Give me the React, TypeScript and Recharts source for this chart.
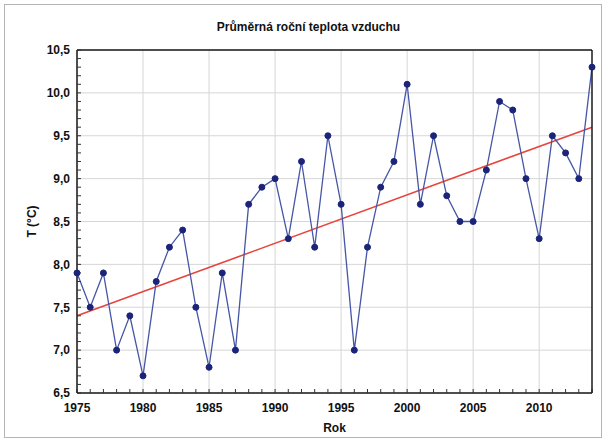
import {
  LineChart,
  Line,
  XAxis,
  YAxis,
  CartesianGrid,
  ReferenceLine,
} from 'recharts';

const FONT = "Arial, 'Liberation Sans', sans-serif";

// annual mean air temperature
const YEARS = [
  1975, 1976, 1977, 1978, 1979, 1980, 1981, 1982, 1983, 1984,
  1985, 1986, 1987, 1988, 1989, 1990, 1991, 1992, 1993, 1994,
  1995, 1996, 1997, 1998, 1999, 2000, 2001, 2002, 2003, 2004,
  2005, 2006, 2007, 2008, 2009, 2010, 2011, 2012, 2013, 2014,
];
const TEMPS = [
  7.9, 7.5, 7.9, 7.0, 7.4, 6.7, 7.8, 8.2, 8.4, 7.5,
  6.8, 7.9, 7.0, 8.7, 8.9, 9.0, 8.3, 9.2, 8.2, 9.5,
  8.7, 7.0, 8.2, 8.9, 9.2, 10.1, 8.7, 9.5, 8.8, 8.5,
  8.5, 9.1, 9.9, 9.8, 9.0, 8.3, 9.5, 9.3, 9.0, 10.3,
];

// linear trend end points
const TREND_START = { x: 1975, y: 7.4 };
const TREND_END = { x: 2014, y: 9.6 };

const X_MAJOR = [1975, 1980, 1985, 1990, 1995, 2000, 2005, 2010];
const Y_MAJOR = [6.5, 7.0, 7.5, 8.0, 8.5, 9.0, 9.5, 10.0, 10.5];
// minor ticks every 0.1
const Y_MINOR = Array.from({ length: 41 }, (_, i) => Math.round((6.5 + i * 0.1) * 10) / 10);

const data = YEARS.map((year, i) => ({ year, temp: TEMPS[i] }));

const isMajorY = (v: number) => Y_MAJOR.some(m => Math.abs(m - v) < 1e-6);
const fmtY = (v: number) => (isMajorY(v) ? v.toFixed(1).replace('.', ',') : '');
const fmtX = (v: number) => (X_MAJOR.includes(v) ? String(v) : '');

const tickStyle = { fontFamily: FONT, fontSize: 12, fontWeight: 700, fill: '#111' };
const borderLine = { stroke: '#1a1a1a', strokeWidth: 1.5 };
const minorTick = { stroke: '#333', strokeWidth: 1 };

export default function App() {
  return (
    <div style={{ position: 'absolute', left: 0, top: 0, width: 611, height: 440, background: '#fff' }}>
      {/* outer frame */}
      <div style={{
        position: 'absolute', left: 4, top: 4, width: 596, height: 432,
        border: '1px solid #b5b5b5',
      }} />

      <div style={{
        position: 'absolute', left: 0, top: 20, width: 617, textAlign: 'center',
        fontFamily: FONT, fontSize: 12, fontWeight: 700, lineHeight: '14px', color: '#111',
      }}>
        Průměrná roční teplota vzduchu
      </div>

      <div style={{ position: 'absolute', left: 0, top: 0 }}>
        <LineChart
          width={611}
          height={440}
          data={data}
          margin={{ top: 49, right: 18, bottom: 0, left: 0 }}
        >
          <CartesianGrid
            stroke="#d6d6d6"
            strokeWidth={1}
            verticalValues={X_MAJOR}
            horizontalValues={Y_MAJOR}
          />

          <XAxis
            dataKey="year"
            type="number"
            domain={[1975, 2014]}
            ticks={YEARS}
            interval={0}
            tickFormatter={fmtX}
            tick={tickStyle}
            tickSize={-4}
            tickMargin={14}
            tickLine={minorTick}
            axisLine={borderLine}
            height={47}
            label={{
              value: 'Rok', position: 'insideBottom', offset: 8,
              style: { fontFamily: FONT, fontSize: 12, fontWeight: 700, fill: '#111' },
            }}
          />
          <XAxis
            xAxisId="top"
            dataKey="year"
            type="number"
            orientation="top"
            domain={[1975, 2014]}
            ticks={YEARS}
            interval={0}
            tick={false}
            tickSize={-4}
            tickLine={minorTick}
            axisLine={borderLine}
            height={1}
          />

          <YAxis
            type="number"
            domain={[6.5, 10.5]}
            ticks={Y_MINOR}
            interval={0}
            tickFormatter={fmtY}
            tick={tickStyle}
            tickSize={-4}
            tickMargin={11}
            tickLine={minorTick}
            axisLine={borderLine}
            width={77}
            label={{
              value: 'T (°C)', angle: -90, position: 'insideLeft', offset: 32,
              style: { fontFamily: FONT, fontSize: 12, fontWeight: 700, fill: '#111', textAnchor: 'middle' },
            }}
          />
          <YAxis
            yAxisId="right"
            type="number"
            orientation="right"
            domain={[6.5, 10.5]}
            ticks={Y_MINOR}
            interval={0}
            tick={false}
            tickSize={-4}
            tickLine={minorTick}
            axisLine={borderLine}
            width={1}
          />

          <ReferenceLine
            segment={[TREND_START, TREND_END]}
            stroke="#e5453c"
            strokeWidth={1.6}
          />

          <Line
            type="linear"
            dataKey="temp"
            stroke="#4656a6"
            strokeWidth={1.3}
            dot={{ r: 3, fill: '#1b2478', stroke: '#1b2478', strokeWidth: 1 }}
            isAnimationActive={false}
          />
        </LineChart>
      </div>
    </div>
  );
}
